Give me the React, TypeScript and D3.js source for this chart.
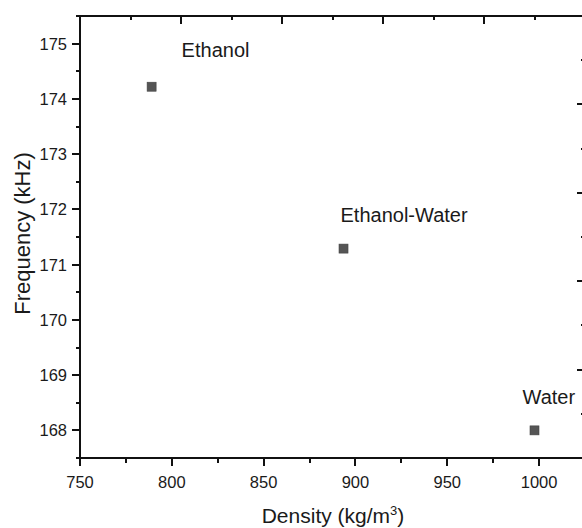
import React from "react";
import * as d3 from "d3";

const names = ["Ethanol", "Ethanol-Water", "Water"];
const density = [789, 893.5, 997.5];
const frequency = [174.22, 171.29, 168.0];
const xTicks = [750, 800, 850, 900, 950, 1000];
const yTicks = [168, 169, 170, 171, 172, 173, 174, 175];
const xTitle = "Density (kg/m";
const yTitle = "Frequency (kHz)";

const W = 582;
const H = 528;
const FONT = "'Liberation Sans', Arial, sans-serif";
const INK = "#1a1a1a";

// label placement relative to each marker (pixels)
const labelOffsets: [number, number][] = [
  [30, -29.5],
  [-3, -27],
  [-12, -26],
];

export default function App() {
  const x = d3.scaleLinear().domain([750, 1025]).range([80, 585]);
  const y = d3.scaleLinear().domain([167.5, 175.5]).range([458, 16]);
  // mirror axes (top / right) with their own tick spacing
  const top = d3.scaleLinear().domain([0, 5]).range([80, 585]);
  const right = d3.scaleLinear().domain([0, 5]).range([458, 16]);
  const mirrorTicks = d3.range(0, 5.01, 0.5);

  const xMinor = d3.range(775, 1025, 50);
  const yMinor = d3.range(167.5, 175.6, 1);
  const [x0, x1] = x.range();
  const [yb, yt] = y.range();
  const sw = 2;
  const r = (v: number) => Math.round(v);

  return (
    <svg
      width={W}
      height={H}
      style={{ position: "absolute", left: 0, top: 0, background: "#fff" }}
      fontFamily={FONT}
    >
      {/* frame */}
      <g stroke="#111" strokeWidth={sw} fill="none" shapeRendering="crispEdges">
        <line x1={x0 - 1} x2={x1} y1={yb} y2={yb} />
        <line x1={x0 - 1} x2={x1} y1={yt} y2={yt} />
        <line x1={x0} x2={x0} y1={yt - 1} y2={yb + 1} />
        <line x1={x1} x2={x1} y1={yt} y2={yb} />
      </g>
      {/* ticks */}
      <g stroke="#111" strokeWidth={sw} shapeRendering="crispEdges">
        {xTicks.map((t) => (
          <line key={"xb" + t} x1={r(x(t))} x2={r(x(t))} y1={yb} y2={yb + 8} />
        ))}
        {xMinor.map((t) => (
          <line key={"xm" + t} x1={r(x(t))} x2={r(x(t))} y1={yb} y2={yb + 5} />
        ))}
        {yTicks.map((t) => (
          <line key={"yl" + t} x1={x0 - 8} x2={x0} y1={r(y(t))} y2={r(y(t))} />
        ))}
        {yMinor.map((t) => (
          <line key={"ym" + t} x1={x0 - 4} x2={x0} y1={r(y(t))} y2={r(y(t))} />
        ))}
        {mirrorTicks.map((t) => (
          <line
            key={"tp" + t}
            x1={r(top(t))}
            x2={r(top(t))}
            y1={yt}
            y2={yt + (Number.isInteger(t) ? 8 : 4)}
          />
        ))}
        {mirrorTicks.map((t) => (
          <line
            key={"rt" + t}
            x1={x1 - (Number.isInteger(t) ? 8 : 4)}
            x2={x1}
            y1={r(right(t))}
            y2={r(right(t))}
          />
        ))}
      </g>
      {/* tick labels */}
      <g fill={INK} fontSize={16.5}>
        {xTicks.map((t) => (
          <text key={"xl" + t} x={x(t)} y={488} textAnchor="middle">
            {t}
          </text>
        ))}
        {yTicks.map((t) => (
          <text key={"ylb" + t} x={67} y={y(t)} dy="0.36em" textAnchor="end">
            {t}
          </text>
        ))}
      </g>
      {/* axis titles */}
      <text x={333} y={523} textAnchor="middle" fontSize={21} fill={INK}>
        {xTitle}
        <tspan fontSize={13} dy={-8}>3</tspan>
        <tspan dy={8}>)</tspan>
      </text>
      <text
        transform={`translate(30,233.5) rotate(-90)`}
        textAnchor="middle"
        fontSize={22}
        fill={INK}
      >
        {yTitle}
      </text>
      {/* points */}
      {density.map((d, i) => (
        <rect
          key={"p" + i}
          x={x(d) - 4.5}
          y={y(frequency[i]) - 4.5}
          width={9}
          height={9}
          fill="#555"
          stroke="#444"
          strokeWidth={0.6}
        />
      ))}
      {/* point labels */}
      {density.map((d, i) => (
        <text
          key={"l" + i}
          x={x(d) + labelOffsets[i][0]}
          y={y(frequency[i]) + labelOffsets[i][1]}
          fontSize={20}
          fill={INK}
        >
          {names[i]}
        </text>
      ))}
    </svg>
  );
}
